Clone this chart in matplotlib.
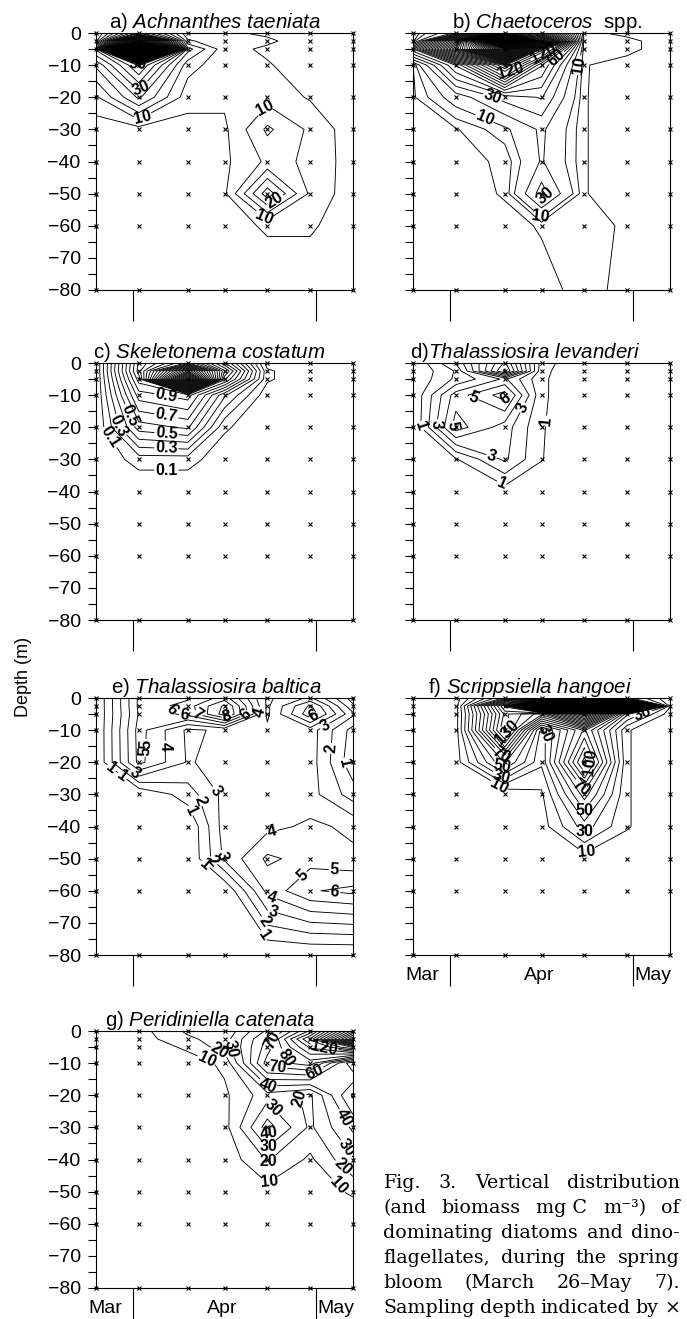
import matplotlib.pyplot as plt
import matplotlib.transforms as mtransforms
import numpy as np

plt.rcParams['font.family'] = ['Liberation Sans', 'DejaVu Sans']
plt.rcParams['mathtext.fontset'] = 'custom'
plt.rcParams['mathtext.rm'] = 'Liberation Sans'
plt.rcParams['mathtext.it'] = 'Liberation Sans:italic'

# sampling dates (days after March 26) and sampling depths (m)
days = [0, 7, 15, 21, 28, 35, 42]
depths = [0, 2.5, 5, 10, 20, 30, 40, 50, 60, 80]

# month boundaries: April 1 and May 1
month_edges = [6, 36]
month_names = ['Mar', 'Apr', 'May']

# biomass (mg C m-3), one row per depth, one column per date
achnanthes = [
    [4, 42, 6, 6, 4, 1, 0],
    [8, 122, 11, 6, 6, 2, 0],
    [36, 302, 22, 7, 4, 2, 0],
    [21, 46, 12, 7, 5.5, 2, 0],
    [9, 26, 7, 6, 8, 4.5, 1],
    [2, 3, 3, 4, 16, 9, 2],
    [0, 0, 0, 4, 11, 9.5, 2],
    [0, 0, 0, 4, 28, 9, 2],
    [0, 0, 0, 2, 6, 6, 1],
    [0, 0, 0, 0, 0, 0, 0],
]
chaetoceros = [
    [0.3, 32, 255, 204, 1.5, 0.5, 0],
    [2, 152, 605, 303, 1.5, 1.5, 0],
    [58, 203, 405, 148, 1.2, 1.5, 0],
    [0.8, 61, 153, 71, 1.1, 0.3, 0],
    [0.2, 14, 34, 41, 1.1, 0, 0],
    [0, 0.5, 8, 22, 1.1, 0, 0],
    [0, 0, 1.5, 21, 1.1, 0, 0],
    [0, 0, 1.2, 35, 1.1, 0, 0],
    [0, 0, 0.3, 1.2, 2, 0.6, 0],
    [0, 0, 0, 0.2, 1.8, 0.3, 0],
]
skeletonema = [
    [0, 1.12, 1.62, 0.92, 0.05, 0, 0],
    [0, 1.15, 2.63, 1.22, 0.12, 0, 0],
    [0, 1.05, 3.46, 1.03, 0.12, 0, 0],
    [0, 0.85, 0.95, 0.42, 0.03, 0, 0],
    [0, 0.55, 0.62, 0.12, 0, 0, 0],
    [0, 0.15, 0.15, 0.02, 0, 0, 0],
    [0, 0, 0, 0, 0, 0, 0],
    [0, 0, 0, 0, 0, 0, 0],
    [0, 0, 0, 0, 0, 0, 0],
    [0, 0, 0, 0, 0, 0, 0],
]
levanderi = [
    [0, 3.1, 9.2, 1.5, 0, 0, 0],
    [0, 2.1, 10.3, 1.3, 0, 0, 0],
    [0.1, 2.2, 4.2, 1.2, 0, 0, 0],
    [0.1, 4.5, 6.5, 1.2, 0, 0, 0],
    [0, 5.5, 3.5, 1.1, 0, 0, 0],
    [0, 0.9, 3.2, 1.05, 0, 0, 0],
    [0, 0, 0.5, 0.2, 0, 0, 0],
    [0, 0, 0, 0, 0, 0, 0],
    [0, 0, 0, 0, 0, 0, 0],
    [0, 0, 0, 0, 0, 0, 0],
]
baltica = [
    [0, 5.2, 5.8, 7.5, 2.8, 4.2, 0.5],
    [0, 5.2, 6.5, 9.2, 2.8, 6.2, 1.2],
    [0, 5.1, 6.3, 9.5, 2.8, 6.7, 2.2],
    [0, 5.4, 2.8, 3.2, 3.2, 3.5, 0.6],
    [0, 5.3, 2.9, 3.4, 3.4, 3.5, 0.3],
    [0, 0, 1.5, 3.3, 3.4, 3.4, 1.5],
    [0, 0, 0, 3.5, 3.7, 4.2, 3.8],
    [0, 0, 0, 3.2, 5.2, 4.6, 4.2],
    [0, 0, 0, 0, 4.3, 5.9, 6.3],
    [0, 0, 0, 0, 0, 0, 0],
]
scrippsiella = [
    [0, 5, 62, 33, 105, 43, 12],
    [0, 5, 152, 404, 903, 305, 11],
    [0, 5, 133, 104, 204, 42, 5],
    [0, 5, 143, 25, 82, 11, 0],
    [0, 5, 61, 22, 115, 11, 0],
    [0, 0, 0, 8, 65, 11, 0],
    [0, 0, 0, 5, 35, 11, 0],
    [0, 0, 0, 2, 5, 2, 0],
    [0, 0, 0, 0, 0, 0, 0],
    [0, 0, 0, 0, 0, 0, 0],
]
peridiniella = [
    [0, 6, 22, 22, 52, 102, 205],
    [0, 5, 18, 25, 62, 132, 252],
    [0, 3, 12, 25, 65, 112, 152],
    [0, 0, 5, 12, 75, 85, 32],
    [0, 0, 0, 8, 26, 18, 62],
    [0, 0, 0, 6, 45, 18, 42],
    [0, 0, 0, 3, 21, 8, 29],
    [0, 0, 0, 0, 6, 3, 12],
    [0, 0, 0, 0, 0, 0, 0],
    [0, 0, 0, 0, 0, 0, 0],
]

caption_lines = [
    ['Fig.', '3.', 'Vertical', 'distribution'],
    ['(and', 'biomass', 'mg C', 'm\u207b\u00b3)', 'of'],
    ['dominating', 'diatoms', 'and', 'dino-'],
    ['flagellates,', 'during', 'the', 'spring'],
    ['bloom', '(March', '26\u2013May', '7).'],
    ['Sampling', 'depth', 'indicated', 'by', '\u00d7'],
]

W, H = 687, 1319


def add_axes_px(fig, left, top, size=257):
    return fig.add_axes([left / W, 1 - (top + size) / H, size / W, size / H])


def draw_panel(ax, values, levels, label_levels, spots, title, title_x,
               fmt='%g', show_y=True, show_months=False):
    z = -np.array(depths, dtype=float)
    v = np.array(values, dtype=float)
    # unlabelled lines and labelled lines are two contour sets, so that
    # clabel only sees the levels it has to label
    plain = [l for l in levels if l not in label_levels]
    ax.contour(days, z, v, levels=plain, colors='black', linewidths=0.65)
    cs = ax.contour(days, z, v, levels=label_levels, colors='black',
                    linewidths=0.65)
    texts = ax.clabel(cs, fmt=fmt, fontsize=11.5, inline=True,
                      inline_spacing=1, manual=spots)
    for t in texts:
        t.set_fontweight('bold')
    dd, zz = np.meshgrid(days, z)
    ax.plot(dd.ravel(), zz.ravel(), 'x', color='black', ms=3.2, mew=0.8,
            clip_on=False, zorder=4)
    ax.set_xlim(0, 42)
    ax.set_ylim(-80, 0)
    ax.set_yticks(np.arange(-80, 1, 10))
    ax.set_yticks(np.arange(-75, 0, 10), minor=True)
    ax.set_xticks(month_edges)
    ax.set_xticklabels([])
    ax.tick_params(axis='y', which='both', direction='out', length=6,
                   width=0.8, labelsize=14, pad=5, labelleft=show_y)
    ax.tick_params(axis='x', direction='out', length=22, width=0.8)
    for s in ax.spines.values():
        s.set_linewidth(0.8)
    ax.text(title_x, 1.02, title, transform=ax.transAxes, fontsize=14.8,
            ha='left', va='baseline')
    if show_months:
        trans = mtransforms.blended_transform_factory(ax.transData, ax.transAxes)
        for x, name, ha in zip([1.6, 20.7, 36.2], month_names,
                               ['center', 'center', 'left']):
            ax.text(x, -0.097, name, transform=trans, fontsize=14,
                    ha=ha, va='baseline')


def justified_caption(fig, lines, x0, x1, y_first, step):
    renderer = fig.canvas.get_renderer()
    for i, words in enumerate(lines):
        y = 1 - (y_first + i * step) / H
        texts = [fig.text(0, y, w, family='DejaVu Serif', fontsize=13.7,
                          va='baseline') for w in words]
        widths = [t.get_window_extent(renderer).width for t in texts]
        gap = (x1 - x0 - sum(widths)) / (len(words) - 1)
        x = x0
        for t, w in zip(texts, widths):
            t.set_x(x / W)
            x += w + gap


fig = plt.figure(figsize=(W / 100, H / 100), dpi=100)

ax_a = add_axes_px(fig, 96, 33)
draw_panel(ax_a, achnanthes, np.arange(5, 305, 5), [10, 20, 30, 40, 50],
           [(7.5, -26), (7.5, -17.5), (7, -9), (7, -0.8), (28, -24),
            (28, -56), (28.5, -50)],
           r'a) $\mathit{Achnanthes\ taeniata}$', 0.05)

ax_b = add_axes_px(fig, 413, 33)
draw_panel(ax_b, chaetoceros, [1, 5] + list(range(10, 610, 10)),
           [10, 30, 60, 120],
           [(11.5, -27.5), (13, -20), (21.5, -7), (24, -9), (27, -10),
            (15, -9), (21.3, -50), (21, -57)],
           r'b) $\mathit{Chaetoceros}$  spp.', 0.15, show_y=False)

ax_c = add_axes_px(fig, 96, 363)
draw_panel(ax_c, skeletonema, np.round(np.arange(1, 36) / 10, 1),
           [0.1, 0.3, 0.5, 0.7, 0.9],
           [(11.5, -10), (11.5, -16.4), (11.5, -22.6), (11.5, -26.5),
            (11.5, -33.8), (4.6, -17), (3.3, -19.7), (1.6, -24)],
           r'c) $\mathit{Skeletonema\ costatum}$', -0.01, fmt='%.1f')

ax_d = add_axes_px(fig, 413, 363)
draw_panel(ax_d, levanderi, np.arange(1, 11), [1, 3, 5, 6],
           [(14.7, -37), (13.1, -27.5), (6.5, -19.7), (3.8, -19.2),
            (1.4, -19.7), (10, -10.4), (15, -11), (17.5, -13.5),
            (21.5, -18)],
           r'd)$\mathit{Thalassiosira\ levanderi}$', -0.01, show_y=False)

ax_e = add_axes_px(fig, 96, 698)
draw_panel(ax_e, baltica, np.arange(1, 10), [1, 2, 3, 4, 5, 6, 7, 8],
           [(11.7, -4.7), (14.5, -4.5), (16.6, -4.7), (21, -4),
            (24.3, -4.7), (26.5, -4.4), (35.5, -5.2), (37.6, -9.3),
            (37.9, -15.6), (39.9, -20.8), (7.4, -16.6), (8.6, -14.5),
            (11.4, -15), (1.9, -23.4), (4.4, -23.9), (6.3, -23.4),
            (18.8, -30), (16.4, -32.4), (15, -35.5), (28.9, -42.6),
            (33, -53.5), (39, -51), (20.5, -49), (19, -51), (17.3, -53),
            (29, -60.6), (29.2, -64.7), (28, -68.8), (26.8, -74.5),
            (39, -60.6)],
           r'e) $\mathit{Thalassiosira\ baltica}$', 0.06)

ax_f = add_axes_px(fig, 413, 698)
draw_panel(ax_f, scrippsiella, np.arange(10, 1000, 10),
           [10, 30, 50, 70, 100, 130],
           [(14, -27.5), (14.5, -24.4), (14.5, -21.8), (14.2, -18.2),
            (15, -10), (22, -11), (28.9, -20), (27.8, -27.5), (28, -35),
            (28.4, -42.6), (28.4, -48.3), (37.6, -5.2), (29.5, -0.6)],
           r'f) $\mathit{Scrippsiella\ hangoei}$', 0.06, show_y=False,
           show_months=True)

ax_g = add_axes_px(fig, 96, 1031)
draw_panel(ax_g, peridiniella, np.arange(10, 260, 10),
           [10, 20, 30, 40, 60, 70, 80, 120],
           [(17.7, -10.6), (20.2, -6.4), (22, -5.4), (29, -2.8),
            (29.7, -11), (32.4, -7), (37.3, -5.4), (28, -17.3),
            (36.2, -14.2), (33, -21), (28.3, -25), (28.3, -31.8),
            (28.3, -36.5), (28.3, -41), (28.3, -47), (40, -27.7),
            (40.5, -37), (40, -43), (39.4, -48.4)],
           r'g) $\mathit{Peridiniella\ catenata}$', 0.035, show_months=True)

fig.text(23 / W, 1 - 677 / H, 'Depth (m)', rotation=90, ha='center',
         va='center', fontsize=13)

justified_caption(fig, caption_lines, 383, 680, 1188, 25)

fig.savefig('out.png', dpi=100)
